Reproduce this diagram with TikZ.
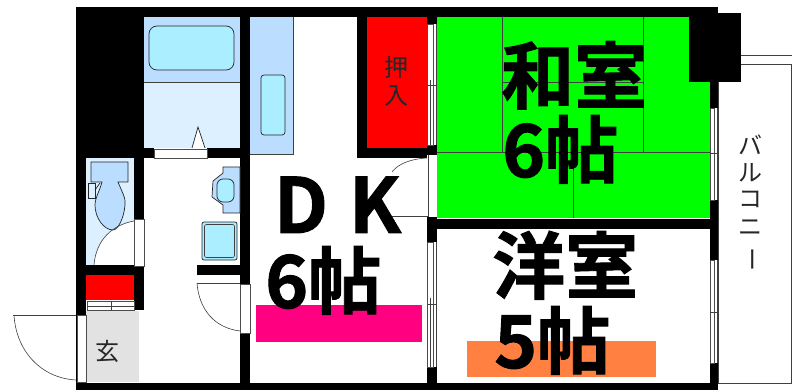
\documentclass[tikz,border=0pt]{standalone}
\usepackage{fontspec}
\setmainfont{Liberation Sans}
\newfontfamily\cjk{Noto Sans CJK JP}[BoldFont={* Bold},BoldFeatures={FakeBold=1.2}]
\definecolor{bluedark}{HTML}{BBDDFF}
\definecolor{bluelight}{HTML}{DDF0FF}
\definecolor{aqua}{HTML}{AAEEFF}
\definecolor{tatami}{HTML}{00FF00}
\definecolor{closet}{HTML}{FF0000}
\definecolor{pinkbar}{HTML}{FF0080}
\definecolor{orangebar}{HTML}{FF8040}
\definecolor{genkan}{HTML}{E2E2E2}
\tikzset{
  x=1pt,y=-1pt,
  wallfill/.style={fill=black,draw=none},
  thin line/.style={draw=black!85,line width=0.7pt},
  fine/.style={draw=black!75,line width=0.6pt},
  sash/.style={fill=white,draw=black!70,line width=0.5pt},
  bigtxt/.style={font=\cjk\bfseries\fontsize{73}{73}\selectfont,inner sep=0pt,text=black},
  smalltxt/.style={font=\cjk\fontsize{24}{24}\selectfont,inner sep=0pt,text=black!85},
}
\begin{document}
\begin{tikzpicture}
\useasboundingbox (0,0) rectangle (792,390);
\fill[white] (0,0) rectangle (792,390);
% fills
\fill[bluedark] (144,17) rectangle (240,82);
\fill[bluelight] (144,82) rectangle (240,148);
\fill[bluedark] (250,17) rectangle (293,154);
\fill[closet] (367,17) rectangle (427,148);
\fill[tatami] (437,17) rectangle (710,218);
\fill[bluelight] (86,158) rectangle (134,265);
\fill[white] (134,221) .. controls (112,225) and (96,240) .. (94,265) -- (134,265) -- cycle;
\fill[genkan] (86,311) rectangle (139,382);
\fill[closet] (86,275) rectangle (134,300);
% balcony
\draw[fine,fill=white] (718,64) rectangle (791,383);
\draw[fine] (718,55) -- (792,55);
% tatami lines
\draw[fine] (437,152) -- (710,152);
\draw[fine] (643,17) -- (643,152);
\draw[fine] (502,17) -- (502,152);
\draw[fine] (573,152) -- (573,218);
\draw[fine] (502,82) -- (643,82);
% walls
\fill[wallfill] (76,7) rectangle (718,17);
\fill[wallfill] (76,7) rectangle (144,148);
\fill[wallfill] (76,148) rectangle (86,390);
\fill[wallfill] (134,148) rectangle (144,219);
\fill[wallfill] (76,148) rectangle (154,158);
\fill[wallfill] (207,148) rectangle (250,158);
\fill[wallfill] (240,7) rectangle (250,284);
\fill[wallfill] (240,333) rectangle (250,390);
\fill[wallfill] (357,7) rectangle (367,158);
\fill[wallfill] (357,148) rectangle (427,158);
\fill[wallfill] (427,145) rectangle (437,155);
\fill[wallfill] (427,7) rectangle (437,24);
\fill[wallfill] (427,217) rectangle (437,242);
\fill[wallfill] (427,367) rectangle (437,390);
\fill[wallfill] (427,219) rectangle (718,229);
\fill[wallfill] (689,13) rectangle (741,82);
\fill[wallfill] (710,7) rectangle (718,108);
\fill[wallfill] (710,200) rectangle (718,260);
\fill[wallfill] (710,363) rectangle (718,390);
\fill[wallfill] (76,382.5) rectangle (718,390);
\fill[wallfill] (76,265) rectangle (144,275);
\fill[wallfill] (134,267) rectangle (144,310);
\fill[wallfill] (197,265) rectangle (250,275);
% bath
\draw[thin line,fill=aqua,rounded corners=8pt] (149,26) rectangle (234,70);
\draw[fine] (144,82) -- (240,82);
\draw[sash] (154,149) rectangle (207,158);
\draw[thin line,fill=white] (192,148) -- (198,127) -- (205,148);
% sink counter
\draw[fine] (293,17) -- (293,154) -- (250,154);
\draw[thin line,fill=aqua,rounded corners=3pt] (261,75) rectangle (285,135);
% sliding doors
\draw[sash] (427,24) rectangle (433,145);
\draw[fine] (430,80) -- (430,145);
\draw[fine] (436.5,24) -- (436.5,145);
\draw[fine] (428,85) -- (437,85);
\draw[sash] (427,242) rectangle (433,367);
\draw[fine] (436.5,242) -- (436.5,367);
\draw[fine] (430,298) -- (430,367);
\draw[fine] (428,304) -- (437,304);
\draw[sash] (710,108) rectangle (714,200);
\draw[fine] (717.5,108) -- (717.5,200);
\draw[fine] (710,153) -- (718,153);
\draw[sash] (710,260) rectangle (714,363);
\draw[fine] (717.5,260) -- (717.5,363);
\draw[fine] (710,312) -- (718,312);
% DK door
\draw[fine] (428,155) -- (428,216) -- (390,216);
\draw[fine] (427,158) .. controls (410,159) and (398,164) .. (392,172);
% toilet
\draw[thin line,fill=bluedark] (91,162) -- (128,162) -- (128,182) -- (118,182) .. controls (122,192) and (126,198) .. (125,205) .. controls (124,218) and (118,230) .. (113,230) .. controls (104,230) and (95,218) .. (95,205) .. controls (95,198) and (100,190) .. (102,182) -- (91,182) -- cycle;
\draw[thin line,fill=bluelight] (88,183) rectangle (95,198);
\draw[thin line] (95,190) -- (100,183);
% toilet door
\draw[sash] (134,219) rectangle (144,266);
\draw[fine] (134,221) .. controls (112,225) and (96,240) .. (94,265);
% shoe storage
\draw[sash] (87,301) rectangle (134,310);
\draw[fine] (87,306) -- (134,306);
\draw[fine] (111,301) -- (111,310);
% entry door
\draw[sash] (77,315) rectangle (86,382);
\draw[fine] (13,315) -- (76,315);
\draw[fine] (14,315) .. controls (16,350) and (40,378) .. (76,380);
% wash basin
\draw[thin line,fill=bluedark] (240,167) -- (223,167) -- (223,173) -- (213,181) -- (212,197) -- (223,205) -- (223,213) -- (240,213) -- cycle;
\draw[thin line,fill=aqua,rounded corners=6pt] (217,179) rectangle (234,202);
\draw[thin line,fill=aqua,rounded corners=2pt] (202,222) rectangle (237,260);
\draw[fine,rounded corners=2pt] (204.5,224.5) rectangle (234.5,257.5);
% washroom door
\draw[sash] (240,284) rectangle (250,333);
\draw[fine] (197,283) -- (240,283);
\draw[fine] (197,283) .. controls (199,310) and (215,328) .. (240,331);
% colored bars
\fill[pinkbar] (256,305) rectangle (422,342);
\fill[orangebar] (467,341) rectangle (656,377);
% texts
\node[bigtxt,font=\cjk\bfseries\fontsize{76}{76}\selectfont,anchor=base] (t1) at (301,233) {D};
\node[bigtxt,font=\cjk\bfseries\fontsize{76}{76}\selectfont,anchor=base] (t2) at (375,233) {K};
\node[bigtxt,anchor=base west] (t3) at (265,308) {6帖};
\node[bigtxt,anchor=base west] (t4) at (501,103) {和室};
\node[bigtxt,anchor=base west] (t5) at (502,177) {6帖};
\node[bigtxt,anchor=base west] (t6) at (492,293) {洋室};
\node[bigtxt,anchor=base west] (t7) at (494,368) {5帖};
\node[smalltxt] (t8) at (396,67) {押};
\node[smalltxt] (t9) at (396,96) {入};
\node[smalltxt] (t10) at (107.5,351) {玄};
\node[smalltxt] (t11) at (750,145) {バ};
\node[smalltxt] (t12) at (750,173) {ル};
\node[smalltxt] (t13) at (750,199) {コ};
\node[smalltxt] (t14) at (750,228) {ニ};
\node[smalltxt,rotate=-90] (t15) at (749,259) {ー};
\end{tikzpicture}
\end{document}
